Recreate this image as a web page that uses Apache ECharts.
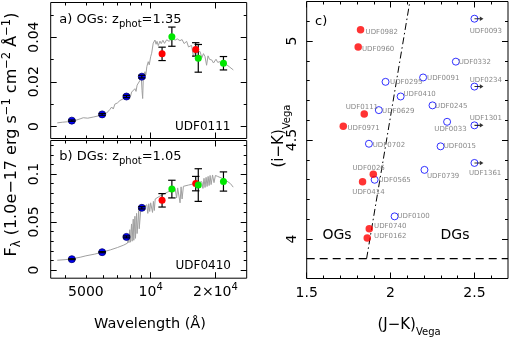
<!DOCTYPE html>
<html>
<head>
<meta charset="utf-8">
<title>UDF SEDs and (i-K) vs (J-K)</title>
<script src="https://cdn.jsdelivr.net/npm/echarts@6.0.0/dist/echarts.min.js"></script>
<style>
  html, body { margin: 0; padding: 0; background: #fff; }
  #chart { width: 509px; height: 338px; }
</style>
</head>
<body>
<div id="chart"></div>
<script>
// photometric bands (Angstrom) and the instrument each point comes from
const bandWave = [4300, 5950, 7720, 9100, 11300, 12550, 16200, 16650, 21800];
const bandKind = ['acs', 'acs', 'acs', 'acs', 'nic', 'isaac', 'nic', 'isaac', 'isaac'];

// a) UDF0111, OG at z=1.35
const fluxA = [0.0026, 0.0054, 0.0134, 0.0223, 0.0325, 0.0402, 0.0345, 0.0305, 0.0283];
const errA  = [0.0003, 0.0004, 0.0005, 0.0006, 0.0030, 0.0043, 0.0030, 0.0062, 0.0030];
// b) UDF0410, DG at z=1.05
const fluxB = [0.0113, 0.0186, 0.0345, 0.0648, 0.0726, 0.0843, 0.0900, 0.0885, 0.0922];
const errB  = [0.0005, 0.0006, 0.0010, 0.0012, 0.0070, 0.0092, 0.0075, 0.0170, 0.0100];

// best fit templates
const specWaveA = [3680, 3900, 4100, 4290, 4500, 4700, 4860, 5100, 5410, 5700, 5950, 6240, 6350, 6450, 6590, 6700,
  6820, 7000, 7200, 7350, 7500, 7730, 7900, 8050, 8160, 8300, 8450, 8550, 8650, 8760, 8920, 9050, 9120, 9180, 9250,
  9410, 9500, 9600, 9745, 9850, 10000, 10110, 10280, 10470, 10600, 10700, 10850, 11050, 11200, 11400, 11600, 11870,
  12200, 12500, 12740, 13000, 13300, 13680, 14000, 14300, 14700, 15000, 15230, 15500, 15800, 16070, 16400, 16960,
  17300, 17600, 17890, 18200, 18480, 18800, 19220, 19600, 20130, 20500, 21010, 21300, 21700, 22100, 22580, 23300, 24230];
const specFluxA = [0.0016, 0.0019, 0.0021, 0.0024, 0.0028, 0.0034, 0.0039, 0.0037, 0.0042, 0.0047, 0.0052, 0.0060,
  0.0052, 0.0075, 0.0087, 0.0078, 0.0100, 0.0105, 0.0116, 0.0108, 0.0125, 0.0131, 0.0142, 0.0133, 0.0154, 0.0162,
  0.0169, 0.0157, 0.0185, 0.0190, 0.0206, 0.0218, 0.0160, 0.0125, 0.0225, 0.0245, 0.0232, 0.0268, 0.0290, 0.0276,
  0.0312, 0.0328, 0.0373, 0.0387, 0.0368, 0.0381, 0.0362, 0.0382, 0.0371, 0.0386, 0.0372, 0.0388, 0.0381, 0.0393,
  0.0396, 0.0387, 0.0392, 0.0384, 0.0389, 0.0371, 0.0381, 0.0356, 0.0350, 0.0363, 0.0312, 0.0341, 0.0331, 0.0336,
  0.0308, 0.0326, 0.0313, 0.0274, 0.0316, 0.0300, 0.0298, 0.0284, 0.0301, 0.0287, 0.0290, 0.0279, 0.0292, 0.0275,
  0.0276, 0.0266, 0.0253];

const specWaveB = [3680, 4000, 4290, 4700, 5000, 5500, 5950, 6500, 7000, 7500, 7800, 7880, 7920, 8000, 8050, 8150,
  8200, 8300, 8350, 8450, 8500, 8600, 8650, 8800, 8850, 9000, 9300, 9600, 9700, 9800, 9900, 10000, 10200, 10300,
  10400, 10500, 11000, 11500, 12000, 12500, 13000, 13200, 13350, 13500, 13700, 13850, 14000, 14200, 15000, 16000,
  16800, 17300, 17500, 17700, 17900, 18100, 18300, 18500, 18700, 18900, 19100, 19400, 19700, 20000, 20500, 21500,
  22500, 23500, 24200];
const specFluxB = [0.0102, 0.0108, 0.0117, 0.0133, 0.0148, 0.0166, 0.0186, 0.0210, 0.0234, 0.0260, 0.0280, 0.0340,
  0.0285, 0.0420, 0.0290, 0.0480, 0.0300, 0.0530, 0.0310, 0.0560, 0.0330, 0.0590, 0.0380, 0.0620, 0.0430, 0.0635,
  0.0660, 0.0680, 0.0590, 0.0690, 0.0610, 0.0700, 0.0600, 0.0715, 0.0620, 0.0740, 0.0768, 0.0790, 0.0812, 0.0832,
  0.0848, 0.0750, 0.0855, 0.0862, 0.0700, 0.0866, 0.0740, 0.0872, 0.0885, 0.0900, 0.0915, 0.0920, 0.0850, 0.0955,
  0.0860, 0.0965, 0.0870, 0.0975, 0.0880, 0.0985, 0.0890, 0.0990, 0.0910, 0.0985, 0.0975, 0.0955, 0.0930, 0.0900,
  0.0863];

// c) colour-colour diagram
const srcName = ['UDF0982', 'UDF0960', 'UDF0111', 'UDF0971', 'UDF0026', 'UDF0414', 'UDF0740', 'UDF0162',
  'UDF0093', 'UDF0332', 'UDF0295', 'UDF0091', 'UDF0234', 'UDF0410', 'UDF0245', 'UDF0629', 'UDF0033', 'UDF1301',
  'UDF0702', 'UDF0015', 'UDF1361', 'UDF0739', 'UDF0565', 'UDF0100'];
const srcJK = [1.821, 1.807, 1.843, 1.718, 1.897, 1.833, 1.873, 1.861,
  2.5, 2.389, 1.970, 2.194, 2.5, 2.060, 2.250, 1.930, 2.337, 2.5, 1.871, 2.298, 2.5, 2.202, 1.905, 2.024];
const srcIK = [5.057, 4.970, 4.632, 4.569, 4.327, 4.289, 4.052, 4.005,
  5.113, 4.896, 4.794, 4.816, 4.770, 4.720, 4.675, 4.651, 4.592, 4.574, 4.481, 4.468, 4.384, 4.349, 4.299, 4.114];
const srcClass = ['OG', 'OG', 'OG', 'OG', 'OG', 'OG', 'OG', 'OG',
  'DG', 'DG', 'DG', 'DG', 'DG', 'DG', 'DG', 'DG', 'DG', 'DG', 'DG', 'DG', 'DG', 'DG', 'DG', 'DG'];
const srcLimit = [0, 0, 0, 0, 0, 0, 0, 0, 1, 0, 0, 0, 1, 0, 0, 0, 0, 1, 0, 0, 1, 0, 0, 0];

const cutIK = 3.9;
const dividerJK = [1.857, 2.115];
const dividerIK = [3.9, 5.2];

// axis ranges and ticks
const waveRange = [3430, 27960];
const waveMajor = [10000, 20000];
const waveMinor = [4000, 5000, 6000, 7000, 8000, 9000];
const waveLabels = [5000, 10000, 20000];
const fluxRangeA = [-0.0054, 0.0555];
const fluxMajorA = [0, 0.02, 0.04];
const fluxMinorA = [0.01, 0.03, 0.05];
const fluxRangeB = [-0.0085, 0.1349];
const fluxMajorB = [0, 0.05, 0.1];
const fluxMinorB = [0.01, 0.02, 0.03, 0.04, 0.06, 0.07, 0.08, 0.09, 0.11, 0.12, 0.13];
const jkRange = [1.5, 2.7];
const jkMajor = [1.5, 2, 2.5];
const jkMinor = [1.6, 1.7, 1.8, 1.9, 2.1, 2.2, 2.3, 2.4, 2.6];
const ikRange = [3.8, 5.2];
const ikMajor = [4, 4.5, 5];
const ikMinor = [3.9, 4.1, 4.2, 4.3, 4.4, 4.6, 4.7, 4.8, 4.9, 5.1];

// where each source label sits relative to its marker (px)
const labelShift = {
  UDF0982: [5.3, 2.4], UDF0960: [4, 2.3], UDF0093: [-4.3, 12.7], UDF0332: [3.3, 0.7], UDF0295: [5, 0.7],
  UDF0091: [4.4, 1], UDF0234: [-4.3, -6], UDF0410: [3.3, -2], UDF0245: [3, 1], UDF0111: [-18.3, -6],
  UDF0629: [3.7, 2], UDF0971: [4.4, 2.4], UDF0033: [-12.3, 8], UDF1301: [-4.3, -6.3], UDF0702: [4.3, 1.6],
  UDF0015: [3.6, 0.4], UDF1361: [-5, 10.6], UDF0026: [-20.6, -6], UDF0739: [3, 6.7], UDF0565: [4.3, 1],
  UDF0414: [-10, 10.7], UDF0100: [3.3, 0], UDF0740: [5, -2.3], UDF0162: [7, -2]
};

const F = 'DejaVu Sans';
const L10 = Math.log10;
const kindColor = { acs: '#0000ff', nic: '#ff0000', isaac: '#00e600' };

const chart = echarts.init(document.getElementById('chart'));

const grids = [
  { left: 50.7, top: 2.5, width: 196, height: 136 },
  { left: 50.7, top: 140.5, width: 196, height: 137.7 },
  { left: 306.7, top: 1.5, width: 201.3, height: 277 }
].map(g => Object.assign({
  show: true, borderColor: '#000', borderWidth: 1, backgroundColor: 'transparent',
  containLabel: false, outerBoundsMode: 'none'
}, g));

const xAxes = [], yAxes = [];

// frame axes: major + minor ticks on both sides, labels only on the first side
function boxAxes(list, grid, sides, range, major, minor, labels, labelCfg) {
  const first = list.length;
  sides.forEach((pos, k) => {
    [major, minor].forEach((ticks, m) => {
      list.push({
        type: 'value', gridIndex: grid, position: pos, min: range[0], max: range[1],
        axisLine: { show: false, onZero: false }, splitLine: { show: false }, minorTick: { show: false },
        axisTick: { show: true, inside: true, length: m ? 3 : 6, customValues: ticks,
          lineStyle: { color: '#000', width: 1 } },
        axisLabel: (k === 0 && m === 0 && labels)
          ? Object.assign({ show: true, customValues: labels, color: '#000', fontFamily: F, fontSize: 14 }, labelCfg)
          : { show: false },
        axisPointer: { show: false }
      });
    });
  });
  return first;
}

const waveFmt = v => {
  const w = Math.round(Math.pow(10, v));
  if (w < 10000) return String(w);
  const e = Math.floor(v + 1e-9);
  const m = Math.round(w / Math.pow(10, e));
  return (m === 1 ? '' : m + '×') + '10{sup|' + e + '}';
};
const numFmt = v => String(+v.toFixed(3));
const yLabelCfg = { rotate: 90, margin: 8, lineHeight: 16, formatter: numFmt };
const waveLog = arr => arr.map(L10);

const xa = boxAxes(xAxes, 0, ['bottom', 'top'], waveLog(waveRange), waveLog(waveMajor), waveLog(waveMinor), null);
const ya = boxAxes(yAxes, 0, ['left', 'right'], fluxRangeA, fluxMajorA, fluxMinorA, fluxMajorA, yLabelCfg);
const xb = boxAxes(xAxes, 1, ['bottom', 'top'], waveLog(waveRange), waveLog(waveMajor), waveLog(waveMinor),
  waveLog(waveLabels), {
    margin: 4, lineHeight: 20, formatter: waveFmt,
    rich: { sup: { fontSize: 10, lineHeight: 10, verticalAlign: 'top', fontFamily: F, color: '#000' } }
  });
const yb = boxAxes(yAxes, 1, ['left', 'right'], fluxRangeB, fluxMajorB, fluxMinorB, fluxMajorB, yLabelCfg);
const xc = boxAxes(xAxes, 2, ['bottom', 'top'], jkRange, jkMajor, jkMinor, jkMajor,
  { margin: 5, lineHeight: 20, formatter: numFmt });
const yc = boxAxes(yAxes, 2, ['left', 'right'], ikRange, ikMajor, ikMinor, ikMajor,
  { rotate: 90, margin: 6, lineHeight: 16, formatter: numFmt });

function specSeries(waves, flux, xi, yi) {
  return {
    type: 'line', xAxisIndex: xi, yAxisIndex: yi, silent: true, z: 1,
    data: waves.map((w, i) => [L10(w), flux[i]]),
    symbol: 'none', lineStyle: { color: '#a0a0a0', width: 1 }
  };
}

function bandSeries(kind, flux, xi, yi) {
  return {
    type: 'scatter', xAxisIndex: xi, yAxisIndex: yi, silent: true, z: kind === 'acs' ? 2 : 4,
    symbolSize: 7,
    itemStyle: { color: kindColor[kind], opacity: 1,
      borderColor: kind === 'acs' ? '#000070' : kindColor[kind], borderWidth: kind === 'acs' ? 0.8 : 0 },
    data: bandWave.map((w, i) => [L10(w), flux[i]]).filter((d, i) => bandKind[i] === kind)
  };
}

function errSeries(flux, err, xi, yi) {
  return {
    type: 'custom', xAxisIndex: xi, yAxisIndex: yi, silent: true, z: 3,
    data: bandWave.map((w, i) => [L10(w), flux[i] - err[i], flux[i] + err[i]]),
    encode: { x: 0, y: [1, 2] },
    renderItem: (params, api) => {
      const lo = api.coord([api.value(0), api.value(1)]);
      const hi = api.coord([api.value(0), api.value(2)]);
      const h = 3.7;
      const st = { stroke: '#000', lineWidth: 1.2 };
      return {
        type: 'group', children: [
          { type: 'line', shape: { x1: lo[0], y1: lo[1], x2: hi[0], y2: hi[1] }, style: st },
          { type: 'line', shape: { x1: lo[0] - h, y1: lo[1], x2: lo[0] + h, y2: lo[1] }, style: st },
          { type: 'line', shape: { x1: hi[0] - h, y1: hi[1], x2: hi[0] + h, y2: hi[1] }, style: st }
        ]
      };
    }
  };
}

const ogData = [], dgData = [], limData = [];
srcName.forEach((n, i) => {
  const s = labelShift[n];
  const item = { name: n, value: [srcJK[i], srcIK[i]], label: { position: [s[0] + 3.5, s[1] + 3.5] } };
  (srcClass[i] === 'OG' ? ogData : dgData).push(item);
  if (srcLimit[i]) limData.push([srcJK[i], srcIK[i]]);
});

const srcLabel = {
  show: true, formatter: '{b}', color: '#6a6a6a', fontFamily: F, fontSize: 7,
  align: 'left', verticalAlign: 'middle'
};

const series = [
  specSeries(specWaveA, specFluxA, xa, ya),
  bandSeries('acs', fluxA, xa, ya),
  errSeries(fluxA, errA, xa, ya),
  bandSeries('nic', fluxA, xa, ya),
  bandSeries('isaac', fluxA, xa, ya),

  specSeries(specWaveB, specFluxB, xb, yb),
  bandSeries('acs', fluxB, xb, yb),
  errSeries(fluxB, errB, xb, yb),
  bandSeries('nic', fluxB, xb, yb),
  bandSeries('isaac', fluxB, xb, yb),

  {
    type: 'line', xAxisIndex: xc, yAxisIndex: yc, silent: true, symbol: 'none', z: 1,
    data: [[jkRange[0], cutIK], [jkRange[1], cutIK]],
    lineStyle: { color: '#000', width: 1.2, type: [8, 5] }
  },
  {
    type: 'line', xAxisIndex: xc, yAxisIndex: yc, silent: true, symbol: 'none', z: 1,
    data: dividerJK.map((x, i) => [x, dividerIK[i]]),
    lineStyle: { color: '#000', width: 1, type: [7, 3, 1.5, 3] }
  },
  {
    type: 'scatter', xAxisIndex: xc, yAxisIndex: yc, silent: true, z: 3, symbolSize: 7,
    itemStyle: { color: 'rgba(255,255,255,0)', borderColor: '#0000ff', borderWidth: 1 },
    label: srcLabel, data: dgData
  },
  {
    type: 'scatter', xAxisIndex: xc, yAxisIndex: yc, silent: true, z: 4, symbolSize: 7.5,
    itemStyle: { color: '#ff0000' },
    label: srcLabel, data: ogData
  },
  {
    type: 'scatter', xAxisIndex: xc, yAxisIndex: yc, silent: true, z: 5,
    symbol: 'path://M0,2.4L6,2.4L6,0.5L10,3L6,5.5L6,3.6L0,3.6Z', symbolSize: [9, 4.5], symbolOffset: [4.5, 0],
    itemStyle: { color: '#000' }, data: limData
  }
];

// text helper for titles and panel annotations
function txt(x, y, text, o) {
  o = o || {};
  const size = o.size || 14;
  const sub = o.sub || Math.round(size * 0.72);
  const lh = o.lh || size + 6;
  return {
    type: 'text', x: x, y: y, rotation: o.rot || 0, silent: true, z: 10,
    style: {
      text: text, fill: o.color || '#000', fontFamily: F, fontSize: size, lineHeight: lh,
      align: o.align || 'left', verticalAlign: 'middle',
      rich: {
        sup: { fontFamily: F, fontSize: sub, lineHeight: sub, verticalAlign: 'top', fill: o.color || '#000' },
        sub: { fontFamily: F, fontSize: sub, lineHeight: sub, verticalAlign: 'bottom', fill: o.color || '#000' }
      }
    }
  };
}

const graphic = [
  txt(59.3, 20, 'a) OGs: z{sub|phot}=1.35', { size: 13, sub: 10, lh: 18 }),
  txt(230.5, 126.5, 'UDF0111', { size: 12, align: 'right' }),
  txt(59.3, 157, 'b) DGs: z{sub|phot}=1.05', { size: 13, sub: 10, lh: 18 }),
  txt(231, 266, 'UDF0410', { size: 12, align: 'right' }),
  txt(315, 21.7, 'c)', { size: 13 }),
  txt(337, 235, 'OGs', { size: 14, align: 'center' }),
  txt(455, 235, 'DGs', { size: 14, align: 'center' }),
  txt(150, 324, 'Wavelength (Å)', { size: 14.5, align: 'center' }),
  txt(409, 325, '(J−K){sub|Vega}', { size: 15, sub: 10, lh: 24, align: 'center' }),
  txt(12, 134.5, 'F{sub|λ} (1.0e−17 erg s{sup|−1} cm{sup|−2} Å{sup|−1})',
    { size: 16, sub: 11.5, lh: 22, align: 'center', rot: Math.PI / 2 }),
  txt(279.5, 136, '(i−K){sub|Vega}', { size: 15, sub: 10, lh: 26, align: 'center', rot: Math.PI / 2 })
];

chart.setOption({
  animation: false,
  backgroundColor: '#fff',
  textStyle: { fontFamily: F },
  grid: grids,
  xAxis: xAxes,
  yAxis: yAxes,
  series: series,
  graphic: graphic
});

window.addEventListener('resize', () => {
  chart.resize();
});
</script>
</body>
</html>
